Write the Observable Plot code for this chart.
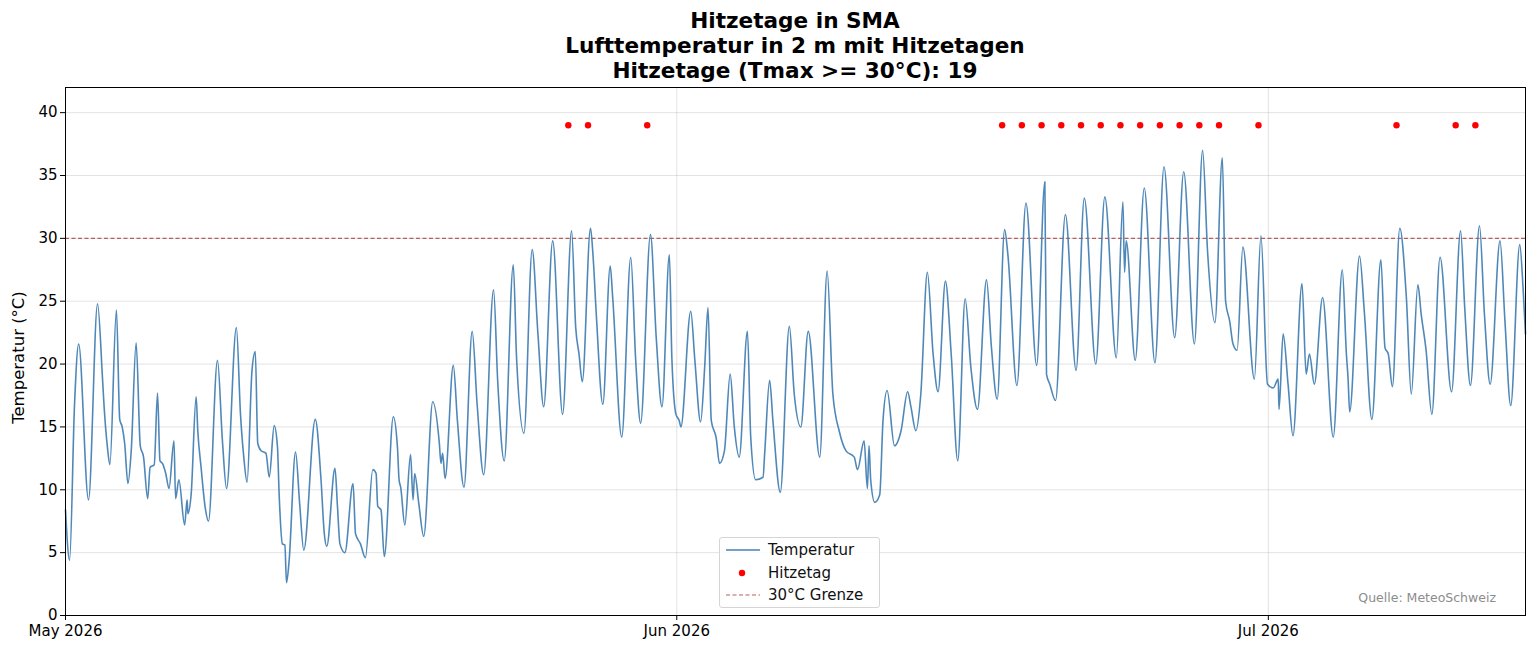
<!DOCTYPE html>
<html>
<head>
<meta charset="utf-8">
<script src="https://cdn.jsdelivr.net/npm/d3@7"></script>
<script src="https://cdn.jsdelivr.net/npm/@observablehq/plot@0.6"></script>
<style>
  body { margin: 0; background: #fff; font-family: "DejaVu Sans", sans-serif; }
  #wrap { position: relative; width: 1536px; height: 652px; overflow: hidden; }
  #title { height: 86px; box-sizing: border-box; padding-top: 8px; padding-left: 54px; text-align: center;
           font-weight: bold; font-size: 21.6px; line-height: 25px; color: #000; }
  #legend { position: absolute; left: 719px; top: 537px; width: 161px; height: 71px; box-sizing: border-box;
            border: 1px solid #d5d5d5; border-radius: 3px; background: rgba(255,255,255,0.85);
            font-size: 15px; color: #111; }
  .li { position: absolute; left: 6px; height: 22px; display: flex; align-items: center; }
  .li svg { margin-right: 8px; }
  #source { position: absolute; left: 1300px; width: 196px; top: 590px; text-align: right; font-size: 12.5px; color: #8c8c8c; }
</style>
</head>
<body>
<div id="wrap">
  <div id="title">Hitzetage in SMA<br>Lufttemperatur in 2 m mit Hitzetagen<br>Hitzetage (Tmax &gt;= 30°C): 19</div>
  <div id="chart"></div>
  <div id="legend">
    <div class="li" style="top:1px"><svg width="34" height="10"><line x1="0" y1="5" x2="34" y2="5" stroke="#4682b4" stroke-width="1.5"/></svg>Temperatur</div>
    <div class="li" style="top:24px"><svg width="34" height="10"><circle cx="16" cy="5" r="3.2" fill="red"/></svg>Hitzetag</div>
    <div class="li" style="top:46px"><svg width="34" height="10"><line x1="0" y1="5" x2="34" y2="5" stroke="#b5605c" stroke-width="1.2" stroke-dasharray="4,2.5"/></svg>30°C Grenze</div>
  </div>
  <div id="source">Quelle: MeteoSchweiz</div>
</div>
<script>
// ---- data (UTC, year 2026) ----
const times = [
"05-01 00","05-01 05","05-01 11","05-01 16","05-02 04","05-02 15","05-02 21","05-02 23","05-03 03","05-03 06",
"05-03 14","05-03 18","05-03 21","05-04 00","05-04 04","05-04 08","05-04 14","05-04 19","05-04 23","05-05 04",
"05-05 07","05-05 12","05-05 16","05-05 19","05-05 22","05-06 02","05-06 06","05-06 12","05-06 14","05-06 18",
"05-07 01","05-07 04","05-07 05","05-07 09","05-07 15","05-07 17","05-07 21","05-08 02","05-08 06","05-08 17",
"05-08 23","05-09 04","05-09 16","05-09 21","05-10 01","05-10 05","05-10 11","05-10 15","05-10 18","05-10 22",
"05-11 04","05-11 08","05-11 14","05-11 18","05-11 20","05-12 00","05-12 03","05-12 05","05-12 08","05-12 16",
"05-12 21","05-13 02","05-13 16","05-13 23","05-14 03","05-14 06","05-14 16","05-14 19","05-14 22","05-15 04",
"05-15 14","05-15 17","05-15 23","05-16 05","05-16 14","05-16 18","05-16 20","05-17 00","05-17 04","05-17 15",
"05-17 20","05-17 22","05-18 00","05-18 05","05-18 12","05-18 15","05-18 17","05-18 22","05-19 04","05-19 15",
"05-19 23","05-20 01","05-20 03","05-20 06","05-20 16","05-20 21","05-21 05","05-21 15","05-21 21","05-22 05",
"05-22 17","05-22 22","05-23 06","05-23 17","05-23 21","05-24 06","05-24 16","05-24 23","05-25 06","05-25 17",
"05-26 05","05-26 16","05-26 21","05-27 01","05-27 05","05-27 15","05-27 18","05-27 22","05-28 06","05-28 15",
"05-28 18","05-29 05","05-29 16","05-29 22","05-30 04","05-30 16","05-30 23","05-31 06","05-31 15","05-31 18",
"05-31 23","06-01 03","06-01 05","06-01 17","06-01 22","06-02 05","06-02 10","06-02 14","06-02 18","06-03 00",
"06-03 04","06-03 10","06-03 17","06-03 22","06-04 04","06-04 14","06-04 18","06-05 00","06-05 09","06-05 11",
"06-05 17","06-05 21","06-06 06","06-06 17","06-06 23","06-07 07","06-07 16","06-08 06","06-08 15","06-08 22",
"06-09 06","06-09 14","06-10 00","06-10 04","06-10 12","06-10 16","06-10 18","06-10 20","06-11 01","06-11 07",
"06-11 11","06-11 16","06-12 01","06-12 09","06-12 17","06-12 21","06-13 03","06-13 09","06-13 17","06-14 00",
"06-14 06","06-14 15","06-14 22","06-15 06","06-15 15","06-15 22","06-16 06","06-16 17","06-16 23","06-17 06",
"06-17 15","06-17 19","06-18 06","06-18 17","06-19 06","06-19 16","06-19 18","06-19 22","06-20 05","06-20 17",
"06-21 06","06-21 16","06-22 06","06-22 17","06-23 07","06-23 15","06-23 17","06-23 19","06-24 06","06-24 17",
"06-25 06","06-25 17","06-26 06","06-26 17","06-27 06","06-27 16","06-27 22","06-28 07","06-28 16","06-28 20",
"06-29 01","06-29 05","06-29 10","06-29 17","06-30 07","06-30 15","06-30 23","07-01 06","07-01 12","07-01 13",
"07-01 18","07-02 00","07-02 06","07-02 17","07-02 22","07-03 02","07-03 08","07-03 18","07-04 07","07-04 18",
"07-04 23","07-05 01","07-05 03","07-05 15","07-05 21","07-06 06","07-06 17","07-06 22","07-07 02","07-07 07",
"07-07 16","07-08 00","07-08 06","07-08 14","07-08 18","07-09 00","07-09 07","07-09 17","07-10 07","07-10 18",
"07-10 23","07-11 06","07-11 17","07-11 23","07-12 06","07-12 18","07-13 00","07-13 07","07-13 18","07-13 22",
"07-14 01"
];
const temps = [
8.4,4.4,16.8,21.6,9.2,24.8,18.9,16.6,13.4,12.0,
24.3,15.6,15.0,13.7,10.5,13.1,21.7,13.5,12.6,9.3,
11.8,12.0,17.7,12.3,12.1,11.3,10.1,13.9,9.3,10.8,
7.2,9.2,8.1,9.7,17.4,14.7,11.8,8.6,7.5,20.3,
13.9,10.1,22.9,16.0,12.6,10.6,19.5,21.0,13.7,13.1,
12.9,11.0,15.1,13.4,9.7,5.7,5.6,2.6,4.2,13.0,
8.9,5.2,15.6,10.8,6.5,5.5,11.7,8.7,5.7,5.0,
10.5,6.5,5.7,4.6,11.6,11.3,8.7,8.4,4.7,15.8,
13.4,10.8,10.2,7.2,12.8,9.2,11.3,8.9,6.3,17.0,
13.7,12.1,12.9,10.9,19.9,15.5,10.2,22.6,16.8,11.2,
25.9,18.7,12.3,27.9,20.5,14.5,29.1,22.4,16.6,29.8,
16.0,30.6,22.9,20.8,18.6,30.8,28.7,24.0,16.8,27.8,
25.3,14.2,28.5,20.3,15.3,30.3,22.1,16.6,28.7,20.5,
16.0,15.5,15.0,24.2,20.3,15.4,19.8,24.5,15.5,14.1,
12.1,13.1,19.2,15.0,12.6,22.6,14.2,10.8,11.0,12.9,
18.7,15.5,9.8,23.0,17.6,15.0,22.6,12.6,27.4,17.6,
14.6,13.1,12.6,11.6,13.9,10.1,13.5,10.8,9.0,9.6,
15.5,17.9,13.5,14.7,17.8,16.6,14.7,17.6,27.3,20.8,
17.8,26.6,20.8,12.3,25.2,19.7,16.4,26.7,21.3,17.2,
30.7,28.7,18.3,32.8,19.9,34.5,19.2,18.4,17.1,31.9,
19.5,33.2,20.0,33.3,20.5,32.9,27.3,29.8,20.3,34.0,
20.1,35.7,22.1,35.3,21.6,37.0,29.0,23.3,36.4,25.0,
23.4,21.6,21.1,29.3,18.8,30.2,18.4,18.1,18.8,16.4,
22.4,18.4,14.3,26.4,19.2,20.8,18.4,25.3,14.2,27.5,
20.8,18.9,16.2,28.6,24.0,15.6,28.3,21.3,20.8,18.2,
30.8,25.3,17.6,26.3,24.0,21.1,16.0,28.5,17.8,30.6,
24.5,18.3,31.0,24.0,18.4,29.8,23.4,16.7,29.5,26.1,
22.4
];
// Hitzetage (Tmax >= 30 °C), marked at noon
const hotDays = ["05-26","05-27","05-30","06-17","06-18","06-19","06-20","06-21","06-22","06-23",
                 "06-24","06-25","06-26","06-27","06-28","06-30","07-07","07-10","07-11"];
const hotDayLevel = 39;
const threshold = 30;
const xStart = "05-01 00", xEnd = "07-14 01";
const yTicks = [0,5,10,15,20,25,30,35,40];
const yMax = 42;

// ---- build ----
const parse = d3.utcParse("%Y-%m-%d %H");
const P = s => parse("2026-" + s);
const series = times.map((t, i) => ({date: P(t), temp: temps[i]}));
const dots = hotDays.map(d => ({date: P(d + " 12"), temp: hotDayLevel}));
const monthTicks = d3.utcMonth.range(P(xStart), P(xEnd));

const chart = Plot.plot({
  width: 1536,
  height: 566,
  marginTop: 1,
  marginLeft: 65,
  marginRight: 11,
  marginBottom: 37,
  style: {fontFamily: "DejaVu Sans, sans-serif", fontSize: "15px", color: "#000", background: "#fff"},
  x: {type: "utc", domain: [P(xStart), P(xEnd)]},
  y: {domain: [0, yMax]},
  marks: [
    Plot.gridY(yTicks, {stroke: "#b0b0b0", strokeOpacity: 0.35}),
    Plot.gridX(monthTicks, {stroke: "#b0b0b0", strokeOpacity: 0.35}),
    Plot.ruleY([threshold], {stroke: "#b5605c", strokeWidth: 1.2, strokeDasharray: "4,2.5"}),
    Plot.line(series, {x: "date", y: "temp", curve: "monotone-x", stroke: "#4682b4", strokeWidth: 1.6, strokeOpacity: 0.95}),
    Plot.dot(dots, {x: "date", y: "temp", r: 3.2, fill: "red", stroke: "none"}),
    Plot.axisY(yTicks, {tickSize: 5, tickPadding: 3, label: null}),
    Plot.axisX(monthTicks, {tickSize: 5, tickPadding: 5, tickFormat: d3.utcFormat("%b %Y"), label: null}),
    Plot.text(["Temperatur (°C)"], {frameAnchor: "left", textAnchor: "middle", rotate: -90, dx: -47, dy: 6, fontSize: 16.5}),
    Plot.frame({stroke: "#000", strokeWidth: 1})
  ]
});
document.getElementById("chart").appendChild(chart);
</script>
</body>
</html>
